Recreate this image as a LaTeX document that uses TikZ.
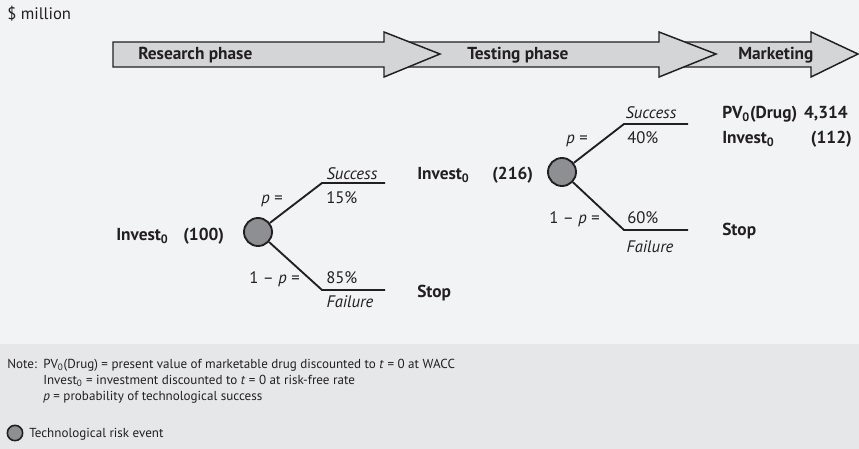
\documentclass[tikz,border=0pt]{standalone}
\usepackage{fontspec}
\setmainfont{PT Sans}

\definecolor{paper}{HTML}{F2F3F5}
\definecolor{noteband}{HTML}{E6E7E9}
\definecolor{phasefill}{HTML}{D4D5D7}
\definecolor{riskfill}{HTML}{8E8F92}
\definecolor{ink}{HTML}{231F20}

\tikzset{
  every node/.append style={inner sep=0pt, text=ink},
  phase/.style={draw=ink, fill=phasefill, line width=1.1pt, line join=miter},
  phaselabel/.style={anchor=base west, font=\bfseries\fontsize{13}{15}\selectfont},
  risk/.style={circle, draw=ink, fill=riskfill, line width=1.4pt, minimum size=21pt},
  branch/.style={draw=ink, line width=1.4pt},
  prob/.style={anchor=base west, font=\fontsize{12.5}{15}\selectfont},
  probeq/.style={anchor=base east, font=\fontsize{12.5}{15}\selectfont},
  event/.style={anchor=base, font=\itshape\fontsize{12.5}{15}\selectfont},
  value/.style={anchor=base west, font=\bfseries\fontsize{13}{15}\selectfont},
  notetext/.style={anchor=base west, font=\fontsize{9.8}{12}\selectfont}
}

\begin{document}
\begin{tikzpicture}[x=0.75pt, y=-0.75pt]
        \useasboundingbox (0,0) rectangle (859,449);
        \fill[paper] (0,0) rectangle (859,449);
        \fill[noteband] (0,344) rectangle (859,449);

        \node[anchor=base west, font=\fontsize{12.5}{15}\selectfont] (unit) at (7,20) {\$ million};

        % Phase arrows, back to front
        \draw[phase] (680,42) -- (811,42) -- (811,32) -- (858,54) -- (811,77) -- (811,67) -- (680,67) -- cycle;
        \draw[phase] (400,42) -- (659,42) -- (659,32) -- (716,54) -- (659,77) -- (659,67) -- (400,67) -- cycle;
        \draw[phase] (113,42) -- (384,42) -- (384,32) -- (440,54) -- (384,77) -- (384,67) -- (113,67) -- cycle;
        \node[phaselabel] (research) at (138,60) {Research phase};
        \node[phaselabel] (testing) at (467,60) {Testing phase};
        \node[phaselabel] (marketing) at (738,60) {Marketing};

        % Research risk event
        \node[risk] (risk1) at (258,232) {};
        \coordinate (s1) at (322,183);
        \coordinate (s1end) at (385,183);
        \coordinate (f1) at (322,290);
        \coordinate (f1end) at (385,290);
        \draw[branch] (risk1) -- (s1) -- (s1end);
        \draw[branch] (risk1) -- (f1) -- (f1end);

        \node[value] (inv100) at (116,240) {Invest\textsubscript{0}};
        \node[value] (amt100) at (183,240) {(100)};
        \node[event] (succ1) at (352,179) {Success};
        \node[prob] (ps1) at (326,203) {15\%};
        \node[probeq] (p1) at (283,203) {\textit{p} =};
        \node[probeq] (q1) at (300,283) {1 – \textit{p} =};
        \node[prob] (pf1) at (326,283) {85\%};
        \node[event] (fail1) at (350,307) {Failure};
        \node[value] (stop1) at (417,297) {Stop};

        % Testing risk event
        \node[value] (inv216) at (417,179) {Invest\textsubscript{0}};
        \node[value] (amt216) at (492,179) {(216)};
        \node[risk] (risk2) at (562,172) {};
        \coordinate (s2) at (624,124);
        \coordinate (s2end) at (688,124);
        \coordinate (f2) at (624,230);
        \coordinate (f2end) at (688,230);
        \draw[branch] (risk2) -- (s2) -- (s2end);
        \draw[branch] (risk2) -- (f2) -- (f2end);

        \node[event] (succ2) at (651,118) {Success};
        \node[prob] (ps2) at (627,143) {40\%};
        \node[probeq] (p2) at (588,143) {\textit{p} =};
        \node[probeq] (q2) at (600,223) {1 – \textit{p} =};
        \node[prob] (pf2) at (627,223) {60\%};
        \node[event] (fail2) at (650,252) {Failure};

        % Marketing payoff
        \node[value] (pv) at (722,118) {PV\textsubscript{0}(Drug)};
        \node[value, anchor=base east] (pvamt) at (848,118) {4,314};
        \node[value] (inv112) at (722,143) {Invest\textsubscript{0}};
        \node[value, anchor=base east] (amt112) at (852,143) {(112)};
        \node[value] (stop2) at (722,235) {Stop};

        % Note and legend
        \node[notetext] (note) at (7,368) {Note:};
        \node[notetext] (note1) at (43,368) {PV\textsubscript{0}(Drug) = present value of marketable drug discounted to \textit{t} = 0 at WACC};
        \node[notetext] (note2) at (43,384) {Invest\textsubscript{0} = investment discounted to \textit{t} = 0 at risk-free rate};
        \node[notetext] (note3) at (43,400) {\textit{p} = probability of technological success};
        \node[risk, minimum size=11.5pt, line width=1.2pt] (legend) at (15,433) {};
        \node[notetext, anchor=base west] (legendtext) at (29,437) {Technological risk event};
\end{tikzpicture}
\end{document}
